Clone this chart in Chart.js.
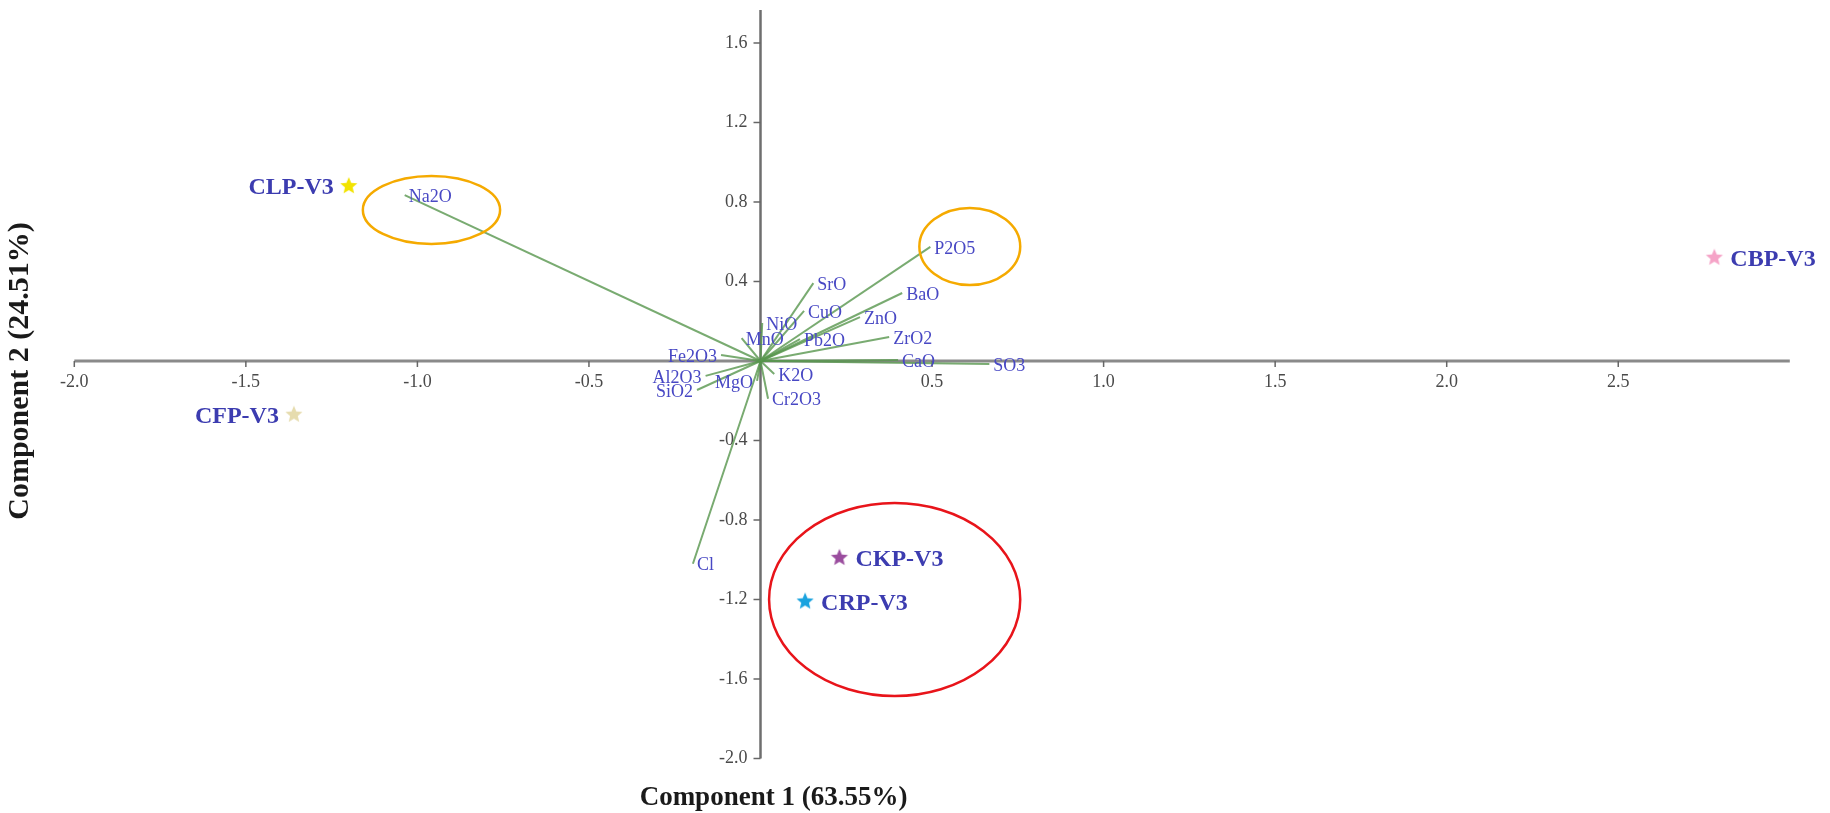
<!DOCTYPE html>
<html>
<head>
<meta charset="utf-8">
<script src="https://cdn.jsdelivr.net/npm/chart.js@4.4.1/dist/chart.umd.min.js"></script>
<style>
  html, body { margin: 0; padding: 0; background: #fff; }
  #wrap { width: 1830px; height: 813px; position: relative; }
</style>
</head>
<body>
<div id="wrap"><canvas id="biplot"></canvas></div>
<script>
// sample scores
const sampleNames = ['CLP-V3', 'CFP-V3', 'CBP-V3', 'CKP-V3', 'CRP-V3'];
const sampleX = [-1.20, -1.36, 2.78, 0.23, 0.13];
const sampleY = [0.88, -0.27, 0.52, -0.99, -1.21];
const sampleColors = ['#f2e300', '#e6dcae', '#f5a3c7', '#9a4d9e', '#1aa3df'];

// oxide loadings (vectors from origin)
const oxideNames = ['Na2O', 'P2O5', 'SrO', 'BaO', 'CuO', 'ZnO', 'NiO', 'MnO', 'Pb2O', 'ZrO2',
                    'CaO', 'SO3', 'K2O', 'Cr2O3', 'Cl', 'MgO', 'Fe2O3', 'Al2O3', 'SiO2'];
const oxideX = [-1.037, 0.495, 0.154, 0.413, 0.127, 0.29, 0.005, -0.055, 0.115, 0.375,
                0.401, 0.667, 0.04, 0.022, -0.197, -0.01, -0.115, -0.16, -0.185];
const oxideY = [0.835, 0.574, 0.392, 0.342, 0.252, 0.221, 0.191, 0.115, 0.11, 0.121,
                0.005, -0.015, -0.065, -0.19, -1.02, -0.1, 0.03, -0.075, -0.146];

const xTicks = [-2.0, -1.5, -1.0, -0.5, 0.5, 1.0, 1.5, 2.0, 2.5];
const yTicks = [1.6, 1.2, 0.8, 0.4, -0.4, -0.8, -1.2, -1.6, -2.0];
const xTitle = 'Component 1 (63.55%)';
const yTitle = 'Component 2 (24.51%)';

// hand-drawn highlight rings (data units)
const highlights = [
  { cx: -0.959, cy: 0.76, rx: 0.2, ry: 0.171, color: '#f5aa00' },
  { cx: 0.61, cy: 0.576, rx: 0.147, ry: 0.194, color: '#f5aa00' },
  { cx: 0.391, cy: -1.2, rx: 0.366, ry: 0.486, color: '#e8141a' }
];

const serif = '"Liberation Serif", "Times New Roman", serif';

function makeStar(color, r) {
  const c = document.createElement('canvas');
  const s = Math.ceil(r * 2 + 2);
  c.width = s; c.height = s;
  const g = c.getContext('2d');
  g.beginPath();
  for (let i = 0; i < 10; i++) {
    const rad = i % 2 === 0 ? r : r * 0.45;
    const a = -Math.PI / 2 + i * Math.PI / 5;
    const px = s / 2 + rad * Math.cos(a), py = s / 2 + rad * Math.sin(a);
    if (i === 0) g.moveTo(px, py); else g.lineTo(px, py);
  }
  g.closePath();
  g.fillStyle = color;
  g.fill();
  return c;
}

const datasets = [];
sampleNames.forEach((name, i) => {
  datasets.push({
    label: name,
    kind: 'sample',
    data: [{ x: sampleX[i], y: sampleY[i] }],
    pointStyle: makeStar(sampleColors[i], 9),
    showLine: false
  });
});
oxideNames.forEach((name, i) => {
  datasets.push({
    label: name,
    kind: 'oxide',
    type: 'line',
    data: [{ x: 0, y: 0 }, { x: oxideX[i], y: oxideY[i] }],
    borderColor: 'rgba(88, 150, 78, 0.8)',
    borderWidth: 2,
    pointRadius: 0,
    fill: false
  });
});

const crossAxes = {
  id: 'crossAxes',
  beforeDatasetsDraw(chart) {
    const { ctx, chartArea: a, scales: { x, y } } = chart;
    const x0 = x.getPixelForValue(0), y0 = y.getPixelForValue(0);
    ctx.save();
    ctx.strokeStyle = '#8a8a8a';
    ctx.lineWidth = 3;
    ctx.beginPath(); ctx.moveTo(a.left, y0); ctx.lineTo(a.right, y0); ctx.stroke();
    ctx.strokeStyle = '#6e6e6e';
    ctx.lineWidth = 2.5;
    ctx.beginPath(); ctx.moveTo(x0, a.top); ctx.lineTo(x0, a.bottom); ctx.stroke();

    ctx.strokeStyle = '#666';
    ctx.lineWidth = 1.5;
    ctx.fillStyle = '#4a4a4a';
    ctx.font = '18px ' + serif;
    ctx.textAlign = 'right';
    ctx.textBaseline = 'middle';
    yTicks.forEach(v => {
      const py = y.getPixelForValue(v);
      ctx.beginPath(); ctx.moveTo(x0 - 7, py); ctx.lineTo(x0, py); ctx.stroke();
      ctx.fillText(v.toFixed(1), x0 - 13, py);
    });
    ctx.textAlign = 'center';
    xTicks.forEach(v => {
      const px = x.getPixelForValue(v);
      ctx.beginPath(); ctx.moveTo(px, y0); ctx.lineTo(px, y0 + 6); ctx.stroke();
      ctx.fillText(v.toFixed(1), px, y0 + 21);
    });
    ctx.restore();
  },
  afterDatasetsDraw(chart) {
    const { ctx } = chart;
    ctx.save();
    ctx.textBaseline = 'middle';
    chart.data.datasets.forEach((ds, i) => {
      const meta = chart.getDatasetMeta(i);
      if (ds.kind === 'oxide') {
        const pt = meta.data[1];
        const v = ds.data[1];
        // vectors lying close to the negative x axis get their name on the left
        const leftSide = v.x < 0 && v.y > -0.3 && v.y < 0.05;
        ctx.font = '18px ' + serif;
        ctx.fillStyle = '#4848c4';
        ctx.textAlign = leftSide ? 'right' : 'left';
        ctx.fillText(ds.label, pt.x + (leftSide ? -4 : 4), pt.y + 2);
      } else {
        const pt = meta.data[0];
        const leftSide = ds.data[0].x < 0;
        ctx.font = 'bold 24px ' + serif;
        ctx.fillStyle = '#3c3cb0';
        ctx.textAlign = leftSide ? 'right' : 'left';
        ctx.fillText(ds.label, pt.x + (leftSide ? -15 : 16), pt.y + 2);
      }
    });
    ctx.restore();
  },
  afterDraw(chart) {
    const { ctx, chartArea: a, scales: { x, y } } = chart;
    ctx.save();
    highlights.forEach(h => {
      const cx = x.getPixelForValue(h.cx), cy = y.getPixelForValue(h.cy);
      const rx = Math.abs(x.getPixelForValue(h.cx + h.rx) - cx);
      const ry = Math.abs(y.getPixelForValue(h.cy + h.ry) - cy);
      ctx.strokeStyle = h.color;
      ctx.lineWidth = 2.5;
      ctx.beginPath();
      ctx.ellipse(cx, cy, rx, ry, 0, 0, Math.PI * 2);
      ctx.stroke();
    });

    const x0 = x.getPixelForValue(0), y0 = y.getPixelForValue(0);
    ctx.fillStyle = '#1a1a1a';
    ctx.textAlign = 'center';
    ctx.textBaseline = 'middle';
    ctx.font = 'bold 27px ' + serif;
    ctx.fillText(xTitle, x0 + 13, a.bottom + 40);
    ctx.translate(20, y0 + 10);
    ctx.rotate(-Math.PI / 2);
    ctx.font = 'bold 30px ' + serif;
    ctx.fillText(yTitle, 0, 0);
    ctx.restore();
  }
};

new Chart(document.getElementById('biplot'), {
  type: 'scatter',
  data: { datasets },
  options: {
    responsive: true,
    maintainAspectRatio: false,
    animation: false,
    layout: { padding: { left: 74.3, right: 40.2, top: 10, bottom: 54.5 } },
    plugins: { legend: { display: false }, tooltip: { enabled: false } },
    scales: {
      x: { type: 'linear', min: -2.0, max: 3.0, display: false },
      y: { type: 'linear', min: -2.0, max: 1.766, display: false }
    }
  },
  plugins: [crossAxes]
});
</script>
</body>
</html>
